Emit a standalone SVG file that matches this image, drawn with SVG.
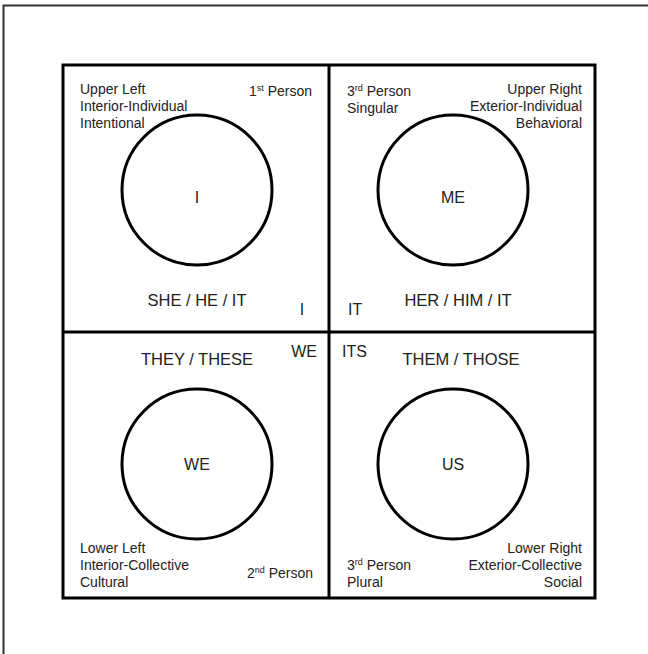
<svg xmlns="http://www.w3.org/2000/svg" width="648" height="654" viewBox="0 0 648 654">
<style>
text{font-family:"Liberation Sans",Arial,sans-serif;font-size:14px;fill:#222}
.big{font-size:16.5px}
.mid{font-size:16px}
.sup{font-size:9px}
.c{text-anchor:middle}
.r{text-anchor:end}
.circ{fill:none;stroke:#000;stroke-width:3}
.frame{fill:none;stroke:#000;stroke-width:3}
</style>
<rect width="648" height="654" fill="#fff"/>
<g id="page-border"><path d="M3.5,654 V5.5 H648" fill="none" stroke="#333" stroke-width="2"/></g>
<g id="connectors">
<rect class="frame" x="63" y="65" width="532" height="533"/>
<line x1="329" y1="65" x2="329" y2="598" stroke="#000" stroke-width="3"/>
<line x1="63" y1="332" x2="595" y2="332" stroke="#000" stroke-width="3"/>
</g>
<g id="upper-left">
<text x="80" y="94">Upper Left</text>
<text x="80" y="111">Interior-Individual</text>
<text x="80" y="128">Intentional</text>
<text class="r" x="312" y="96">1<tspan class="sup" dy="-5">st</tspan><tspan dy="5"> Person</tspan></text>
<circle class="circ" cx="197" cy="190" r="75"/>
<text class="c mid" x="197" y="203">I</text>
<text class="c big" x="197" y="306">SHE / HE / IT</text>
<text class="c mid" x="302" y="315">I</text>
</g>
<g id="upper-right">
<text x="347" y="96">3<tspan class="sup" dy="-5">rd</tspan><tspan dy="5"> Person</tspan></text>
<text x="347" y="113">Singular</text>
<text class="r" x="582" y="94">Upper Right</text>
<text class="r" x="582" y="111">Exterior-Individual</text>
<text class="r" x="582" y="128">Behavioral</text>
<circle class="circ" cx="453" cy="190" r="75"/>
<text class="c mid" x="453" y="203">ME</text>
<text class="c big" x="458" y="306">HER / HIM / IT</text>
<text class="mid" x="348" y="315">IT</text>
</g>
<g id="lower-left">
<text class="c big" x="197" y="365">THEY / THESE</text>
<text class="r mid" x="317" y="357">WE</text>
<circle class="circ" cx="197" cy="464" r="75"/>
<text class="c mid" x="197" y="470">WE</text>
<text x="80" y="553">Lower Left</text>
<text x="80" y="570">Interior-Collective</text>
<text x="80" y="587">Cultural</text>
<text class="r" x="313" y="578">2<tspan class="sup" dy="-5">nd</tspan><tspan dy="5"> Person</tspan></text>
</g>
<g id="lower-right">
<text class="mid" x="342" y="357">ITS</text>
<text class="c big" x="461" y="365">THEM / THOSE</text>
<circle class="circ" cx="453" cy="464" r="75"/>
<text class="c mid" x="453" y="470">US</text>
<text x="347" y="570">3<tspan class="sup" dy="-5">rd</tspan><tspan dy="5"> Person</tspan></text>
<text x="347" y="587">Plural</text>
<text class="r" x="582" y="553">Lower Right</text>
<text class="r" x="582" y="570">Exterior-Collective</text>
<text class="r" x="582" y="587">Social</text>
</g>
</svg>
